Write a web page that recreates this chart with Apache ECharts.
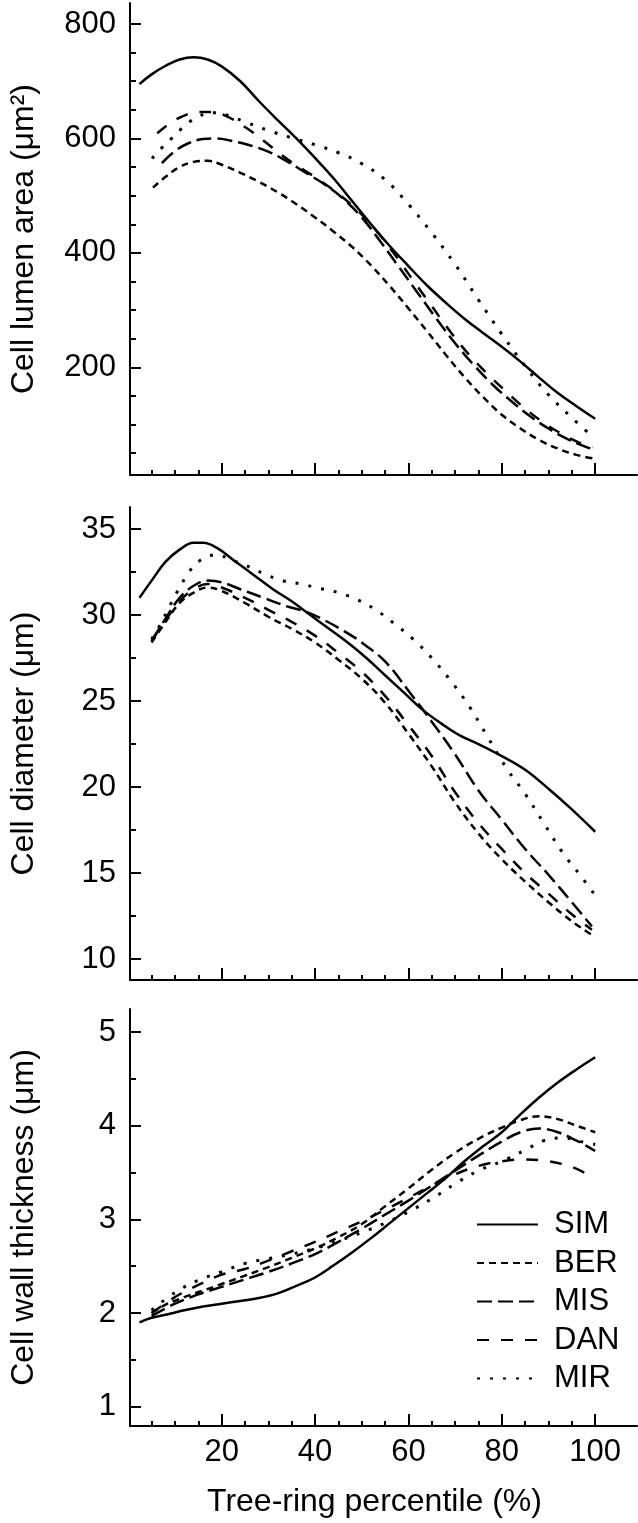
<!DOCTYPE html>
<html>
<head>
<meta charset="utf-8">
<script src="https://cdn.jsdelivr.net/npm/echarts@6/dist/echarts.min.js"></script>
<style>
html, body { margin: 0; padding: 0; background: #fff; }
#chart { width: 638px; height: 1523px; }
</style>
</head>
<body>
<div id="chart"></div>
<script>
// values: [tree-ring percentile (%), value]
var lumenSIM = [[2.4,695],[5,712],[8,727],[11,738],[14,742],[17,738],[20,726],[24,700],[28,665],[32,632],[36,600],[40,566],[44,530],[48,490],[52,450],[56,412],[60,377],[64,343],[68,313],[72,285],[76,260],[80,236],[84,210],[88,182],[92,155],[96,132],[100,110]]
var lumenBER = [[5.3,514],[8,533],[11,550],[14,559],[17,561],[20,554],[24,540],[28,524],[32,506],[36,485],[40,462],[44,437],[48,410],[52,378],[56,342],[60,303],[64,263],[68,222],[72,183],[76,148],[80,117],[84,93],[88,73],[92,58],[96,47],[100,40]]
var lumenMIS = [[7.2,557],[10,578],[13,592],[16,599],[19,600],[22,596],[26,588],[30,577],[34,560],[38,540],[42,520],[46,495],[50,462],[54,420],[58,375],[62,330],[66,285],[70,242],[74,204],[78,170],[82,141],[86,115],[90,93],[94,75],[98,61],[99.5,57]]
var lumenDAN = [[6.2,609],[9,627],[12,640],[15,646],[18,646],[21,639],[25,620],[29,596],[33,570],[37,548],[41,527],[45,503],[49,475],[53,440],[57,398],[61,352],[65,307],[69,262],[73,222],[77,188],[81,157],[85,128],[89,103],[93,83],[97,67],[99.5,60]]
var lumenMIR = [[5.1,565],[7,582],[9,598],[11,614],[13,628],[15,638],[17,644],[19,645],[22,638],[25,629],[30,614],[35,601],[40,589],[45,575],[50,556],[55,528],[60,485],[65,435],[70,380],[75,318],[80,258],[85,202],[90,152],[95,112],[99,82]]

var diamSIM = [[2.4,31.0],[5,32.0],[8,33.1],[11,33.8],[14,34.2],[16,34.2],[19,33.9],[23,33.1],[27,32.3],[31,31.5],[35,30.8],[39,30.0],[43,29.2],[47,28.4],[51,27.5],[55,26.5],[59,25.5],[63,24.5],[67,23.7],[71,23.0],[75,22.5],[80,21.8],[85,21.0],[90,19.9],[95,18.7],[100,17.4]]
var diamBER = [[5,28.4],[8,29.6],[11,30.7],[14,31.3],[17,31.6],[20,31.4],[25,30.7],[30,29.9],[35,29.2],[40,28.4],[45,27.4],[50,26.3],[55,24.9],[60,23.1],[65,21.2],[70,19.1],[75,17.3],[80,15.8],[85,14.5],[90,13.3],[95,12.2],[99.3,11.4]]
var diamMIS = [[5,28.5],[8,29.8],[11,31.0],[14,31.7],[17,32.0],[20,31.9],[24,31.5],[29,31.0],[34,30.5],[38,30.2],[42,29.7],[46,29.1],[50,28.4],[55,27.3],[60,25.6],[65,23.8],[70,21.9],[75,19.8],[80,18.1],[85,16.4],[90,14.9],[95,13.3],[99.3,11.9]]
var diamDAN = [[5,28.5],[8,29.7],[11,30.8],[14,31.5],[17,31.8],[20,31.6],[25,31.0],[30,30.3],[35,29.6],[40,28.8],[45,27.8],[50,26.7],[55,25.3],[60,23.6],[65,21.8],[70,19.7],[75,17.9],[80,16.4],[85,15.0],[90,13.8],[95,12.6],[99.3,11.7]]
var diamMIR = [[5,28.6],[7,29.5],[9,30.6],[11,31.6],[13,32.5],[15,33.1],[17,33.4],[19,33.5],[22,33.2],[25,32.9],[29,32.4],[33,32.0],[37,31.8],[41,31.55],[45,31.3],[49,30.9],[53,30.3],[57,29.5],[61,28.6],[65,27.5],[69,26.2],[73,24.7],[77,22.9],[81,21.1],[85,19.6],[89,17.9],[93,16.2],[97,14.8],[100,13.7]]

var wallSIM = [[2.4,1.90],[5,1.95],[8.7,1.99],[12,2.03],[16,2.07],[20,2.10],[24,2.13],[28,2.16],[32,2.21],[36,2.29],[40,2.38],[44,2.51],[48,2.65],[52,2.80],[56,2.96],[60,3.12],[64,3.28],[68,3.44],[72,3.62],[76,3.78],[80,3.93],[84,4.12],[88,4.30],[92,4.46],[96,4.60],[100,4.73]]
var wallBER = [[5,2.0],[8,2.09],[12,2.17],[16,2.24],[20,2.31],[25,2.40],[30,2.49],[35,2.59],[40,2.69],[45,2.81],[50,2.95],[55,3.14],[60,3.33],[65,3.53],[70,3.71],[75,3.86],[80,3.98],[84,4.06],[88,4.10],[92,4.07],[96,4.00],[100,3.93]]
var wallMIS = [[5,1.97],[10,2.1],[15,2.2],[20,2.28],[25,2.36],[30,2.44],[35,2.53],[40,2.63],[45,2.76],[50,2.90],[55,3.05],[60,3.20],[65,3.36],[70,3.52],[75,3.68],[80,3.83],[84,3.93],[88,3.97],[92,3.93],[96,3.84],[100,3.73]]
var wallDAN = [[5,2.0],[10,2.17],[15,2.30],[20,2.41],[25,2.47],[30,2.56],[35,2.66],[40,2.76],[45,2.87],[50,2.98],[55,3.10],[60,3.23],[65,3.36],[70,3.48],[75,3.57],[80,3.62],[85,3.64],[90,3.62],[95,3.56],[98,3.49]]
var wallMIR = [[5,2.03],[10,2.22],[15,2.35],[20,2.44],[25,2.53],[30,2.58],[35,2.63],[40,2.69],[45,2.77],[50,2.86],[55,2.96],[60,3.08],[65,3.22],[70,3.38],[75,3.52],[80,3.62],[85,3.74],[89,3.84],[93,3.87],[97,3.83],[100,3.80]]

var siteNames = ['SIM', 'BER', 'MIS', 'DAN', 'MIR']
var xMajorTicks = [20, 40, 60, 80, 100]
var xMinorTicks = [5, 10, 15, 25, 30, 35, 45, 50, 55, 65, 70, 75, 85, 90, 95]
var lumenTicks = [200, 400, 600, 800]
var lumenMinor = [50, 100, 150, 250, 300, 350, 450, 500, 550, 650, 700, 750]
var diamTicks = [10, 15, 20, 25, 30, 35]
var diamMinor = [12.5, 17.5, 22.5, 27.5, 32.5]
var wallTicks = [1, 2, 3, 4, 5]
var wallMinor = [1.5, 2.5, 3.5, 4.5]

var FONT = 'Liberation Sans, Arial, Helvetica, sans-serif'
var dashes = {
  SIM: 'solid',
  BER: [7, 5],
  MIS: [15, 6],
  DAN: [12, 12],
  MIR: [3, 10]
}

var panels = [
  { top: 3, height: 472, min: 11.8, max: 836.7, ticks: lumenTicks, minor: lumenMinor, name: 'Cell lumen area (\u03bcm\u00b2)',
    data: [lumenSIM, lumenBER, lumenMIS, lumenDAN, lumenMIR] },
  { top: 507, height: 473, min: 8.78, max: 36.28, ticks: diamTicks, minor: diamMinor, name: 'Cell diameter (\u03bcm)',
    data: [diamSIM, diamBER, diamMIS, diamDAN, diamMIR] },
  { top: 1009, height: 417, min: 0.795, max: 5.245, ticks: wallTicks, minor: wallMinor, name: 'Cell wall thickness (\u03bcm)',
    data: [wallSIM, wallBER, wallMIS, wallDAN, wallMIR] }
]

var axisLine = { show: true, lineStyle: { color: '#000', width: 2 } }
var grids = [], xAxes = [], yAxes = [], series = []

panels.forEach(function(p, i) {
  var last = i === panels.length - 1
  grids.push({ left: 128, width: 509, top: p.top, height: p.height })
  // x axis: major ticks (+ labels on the bottom panel)
  xAxes.push({
    type: 'value', gridIndex: i, position: 'bottom', min: 0.37, max: 108.96,
    axisLine: axisLine,
    splitLine: { show: false },
    axisTick: { show: true, inside: true, length: 12, customValues: xMajorTicks, lineStyle: { color: '#000', width: 2 } },
    axisLabel: { show: last, customValues: xMajorTicks, margin: 11, color: '#000', fontSize: 31, fontFamily: FONT },
    name: last ? 'Tree-ring percentile (%)' : '',
    nameLocation: 'middle', nameGap: 60,
    nameTextStyle: { color: '#000', fontSize: 32, fontFamily: FONT, padding: [0, 18, 0, 0] }
  })
  // x axis: minor ticks
  xAxes.push({
    type: 'value', gridIndex: i, position: 'bottom', min: 0.37, max: 108.96,
    axisLine: { show: false }, splitLine: { show: false }, axisLabel: { show: false },
    axisTick: { show: true, inside: true, length: 5, customValues: xMinorTicks, lineStyle: { color: '#000', width: 2 } }
  })
  yAxes.push({
    type: 'value', gridIndex: i, position: 'left', min: p.min, max: p.max,
    axisLine: axisLine,
    splitLine: { show: false },
    axisTick: { show: true, inside: true, length: 11, customValues: p.ticks, lineStyle: { color: '#000', width: 2 } },
    axisLabel: { customValues: p.ticks, margin: 14, color: '#000', fontSize: 31, fontFamily: FONT },
    name: p.name, nameLocation: 'middle', nameGap: 90, nameRotate: 90,
    nameTextStyle: { color: '#000', fontSize: 32, fontFamily: FONT }
  })
  yAxes.push({
    type: 'value', gridIndex: i, position: 'left', min: p.min, max: p.max,
    axisLine: { show: false }, splitLine: { show: false }, axisLabel: { show: false },
    axisTick: { show: true, inside: true, length: 6, customValues: p.minor, lineStyle: { color: '#000', width: 2 } }
  })
  siteNames.forEach(function(site, k) {
    series.push({
      name: site,
      type: 'line',
      xAxisIndex: i * 2,
      yAxisIndex: i * 2,
      data: p.data[k],
      smooth: 0.4,
      symbol: 'none',
      itemStyle: { color: '#000' },
      lineStyle: { color: '#000', width: site === 'MIR' ? 3 : 2.5, type: dashes[site] }
    })
  })
})

var myChart = echarts.init(document.getElementById('chart'))
myChart.setOption({
  backgroundColor: '#fff',
  animation: false,
  legend: {
    data: siteNames,
    orient: 'vertical',
    left: 476,
    top: 1209,
    padding: 0,
    itemWidth: 61,
    itemHeight: 14,
    itemGap: 7.5,
    itemStyle: { opacity: 0 },
    textStyle: { color: '#000', fontSize: 31, fontFamily: FONT, lineHeight: 30, padding: [0, 0, 0, 11] }
  },
  grid: grids,
  xAxis: xAxes,
  yAxis: yAxes,
  series: series
})
</script>
</body>
</html>
